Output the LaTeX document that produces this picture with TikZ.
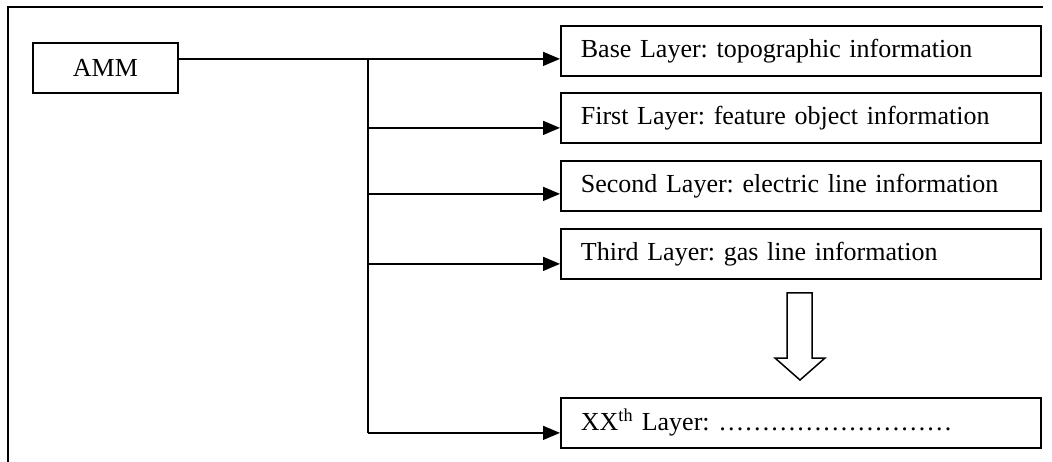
\documentclass[tikz,border=0pt]{standalone}
\usepackage{fontspec}
\setmainfont{Liberation Serif}
\usetikzlibrary{arrows.meta}
\frenchspacing
\begin{document}
\begin{tikzpicture}[x=1pt,y=-1pt,
  txt/.style={font=\fontsize{26}{30}\selectfont},
  layerbox/.style={txt,draw,line width=1.8pt,minimum width=480pt,minimum height=50pt,
    text width=440pt,align=left,inner xsep=20pt,inner ysep=0pt,anchor=north west},
  ammbox/.style={txt,draw,line width=1.8pt,minimum width=145pt,minimum height=50pt,inner sep=0pt,anchor=north west},
  conn/.style={line width=1.5pt},
  arr/.style={conn,-{Triangle[length=17pt,width=14pt]}},
  framel/.style={line width=2pt},
  hollow/.style={line width=1.5pt,fill=white}]
\useasboundingbox (0,0) rectangle (1052,462);
\draw[framel] (8,462) -- (8,7) -- (1043,7);
\node[ammbox] (amm) at (32,42) {AMM};
\node[layerbox] (b1) at (560,25) {Base Layer: topographic information};
\node[layerbox] (b2) at (560,92) {First Layer: feature object information};
\node[layerbox] (b3) at (560,160) {Second Layer: electric line information};
\node[layerbox] (b4) at (560,228) {Third Layer: gas line information};
\node[layerbox] (b5) at (560,397) {XX\textsuperscript{th} Layer: \dots\dots\dots\dots\dots\dots\dots\dots\dots};
\coordinate (a0) at ([yshift=9pt]amm.east);
\coordinate (e2) at ([yshift=-10pt]b2.west);
\coordinate (e3) at ([yshift=-8pt]b3.west);
\coordinate (e4) at ([yshift=-10pt]b4.west);
\coordinate (e5) at ([yshift=-10pt]b5.west);
\coordinate (j) at (368,58);
\draw[arr] (a0) -- (a0 -| b1.west);
\draw[conn] (j) -- (j |- e5);
\draw[arr] (j |- e2) -- (e2);
\draw[arr] (j |- e3) -- (e3);
\draw[arr] (j |- e4) -- (e4);
\draw[arr] (j |- e5) -- (e5);
\draw[hollow] (787,293) -- (812,293) -- (812,358) -- (825,358) -- (800,380) -- (775,358) -- (787,358) -- cycle;
\end{tikzpicture}
\end{document}
